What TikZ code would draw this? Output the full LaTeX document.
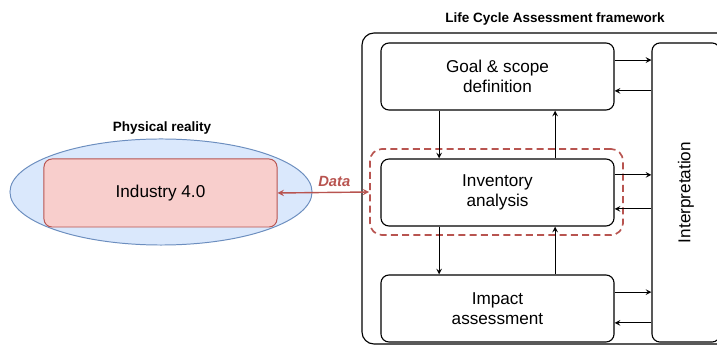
\documentclass[tikz,border=0pt]{standalone}
\usepackage{fontspec}
\setmainfont{Liberation Sans}
\usepackage{tikz}
\usetikzlibrary{shapes.geometric, arrows}
\usetikzlibrary{positioning, shapes}
\definecolor{realblue}{HTML}{DAE8FC}
\definecolor{realedge}{HTML}{6C8EBF}
\definecolor{indpink}{HTML}{F8CECC}
\definecolor{datared}{HTML}{B85450}
\tikzstyle{stage} = [rectangle, rounded corners=0.2cm, minimum width=5.825cm, minimum height=1.675cm, text centered, align=center, draw=black, line width=0.8pt, font=\fontsize{12.2}{14.5}\selectfont]
\tikzstyle{title} = [font=\bfseries\fontsize{9.6}{11}\selectfont]
\tikzstyle{arrow} = [line width=0.8pt,->,>=stealth]
\tikzstyle{dataarrow} = [line width=1pt,<->,>=stealth, draw=datared]

\begin{document}
\begin{tikzpicture}[x=0.025cm, y=-0.025cm]
            \useasboundingbox (0,0) rectangle (717,346);
            % left side: physical reality
            \node (reality) [ellipse, draw=realedge, fill=realblue, line width=0.7pt, minimum width=7.55cm, minimum height=2.65cm] at (161,192) {};
            \node (industry) [rectangle, rounded corners=0.2cm, draw=datared, fill=indpink, line width=0.7pt, minimum width=5.825cm, minimum height=1.7cm, font=\fontsize{12.2}{14.5}\selectfont] at (160.5,193) {Industry 4.0};
            \node (physlabel) [title] at (162,128) {Physical reality};

            % right side: LCA framework
            \node (lcalabel) [title] at (555,19) {Life Cycle Assessment framework};
            \draw [line width=0.8pt, rounded corners=0.3cm] (362,344) rectangle (740,33);
            \node (goal) [stage] at (497.5,76.5) {Goal \& scope\\definition};
            \node (inventory) [stage] at (497.5,192.5) {Inventory\\analysis};
            \node (impact) [stage] at (497.5,308.5) {Impact\\assessment};
            \node (interp) [rectangle, rounded corners=0.2cm, draw=black, line width=0.8pt, minimum width=1.7cm, minimum height=7.475cm] at (686,192.5) {};
            \node (interplabel) [rotate=90, font=\fontsize{12.2}{14.5}\selectfont] at (686,192.5) {Interpretation};
            \node (focus) [rectangle, rounded corners=0.3cm, draw=datared, dashed, dash pattern=on 5pt off 3pt, line width=1.2pt, minimum width=6.325cm, minimum height=2.15cm] at (496.5,192) {};

            \draw [dataarrow] (industry.east) -- node[pos=0.62, above, text=datared, font=\bfseries\itshape\fontsize{10.5}{12}\selectfont]{Data} (focus.west);

            \draw [arrow] ([xshift=-1.46cm]goal.south) -- ([xshift=-1.46cm]inventory.north);
            \draw [arrow] ([xshift=-1.46cm]inventory.south) -- ([xshift=-1.46cm]impact.north);
            \draw [arrow] ([xshift=1.44cm]inventory.north) -- ([xshift=1.44cm]goal.south);
            \draw [arrow] ([xshift=1.44cm]impact.north) -- ([xshift=1.44cm]inventory.south);

            \draw [arrow] ([yshift=0.41cm]goal.east) -- ([yshift=0.41cm]goal.east -| interp.west);
            \draw [arrow] ([yshift=-0.36cm]goal.east -| interp.west) -- ([yshift=-0.36cm]goal.east);
            \draw [arrow] ([yshift=0.44cm]inventory.east) -- ([yshift=0.44cm]inventory.east -| interp.west);
            \draw [arrow] ([yshift=-0.41cm]inventory.east -| interp.west) -- ([yshift=-0.41cm]inventory.east);
            \draw [arrow] ([yshift=0.41cm]impact.east) -- ([yshift=0.41cm]impact.east -| interp.west);
            \draw [arrow] ([yshift=-0.36cm]impact.east -| interp.west) -- ([yshift=-0.36cm]impact.east);

            \end{tikzpicture}
\end{document}
